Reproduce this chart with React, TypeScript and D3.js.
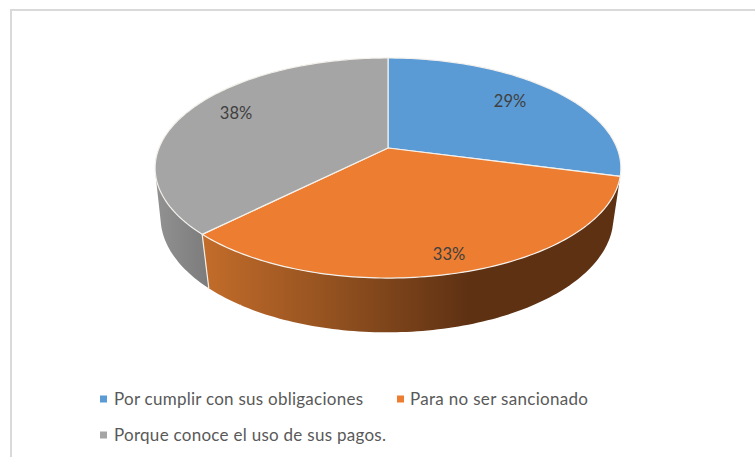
import React from "react";
import * as d3 from "d3";

const categories = ["Por cumplir con sus obligaciones", "Para no ser sancionado", "Porque conoce el uso de sus pagos."];
const seriesValues = [29.1, 33.4, 37.5];
const topColors = ["#5b9bd5", "#ed7d31", "#a5a5a5"];
const labelPositions = [[510, 101], [449, 254], [236, 113]];
const legendItems = [
  { x: 100, y: 399, tx: 114, w: 249 },
  { x: 397, y: 399, tx: 410, w: 178 },
  { x: 100, y: 435, tx: 114, w: 272 },
];

const topDisk = { cx: 388, cy: 148, a: 229, b: 106.4, k: 0.1818 };
const bottomDisk = { cx: 387, cy: 199, a: 223.5, b: 112, k: 0.16 };

type Disk = typeof topDisk;
function project(d: Disk, phi: number): [number, number] {
  const X = Math.sin(phi);
  const Y = -Math.cos(phi);
  const s = 1 / (1 - d.k * Y);
  return [d.cx + d.a * X * s, d.cy + d.b * Y * s];
}
function rim(d: Disk, a0: number, a1: number): [number, number][] {
  const n = Math.max(2, Math.ceil(Math.abs(a1 - a0) / 0.02));
  return d3.range(n + 1).map((i) => project(d, a0 + ((a1 - a0) * i) / n));
}

export default function App() {
  const arcs = d3.pie<number>().sort(null).value((v) => v)(seriesValues);
  const line = d3.line();
  const wallPath = (a0: number, a1: number) => {
    const top = rim(topDisk, a0, a1);
    const bot = rim(bottomDisk, a0, a1);
    return d3
      .range(top.length - 1)
      .map((i) => {
        const quad: [number, number][] = [top[i], top[i + 1], bot[i + 1], bot[i]];
        if (d3.polygonArea(quad) < 0) quad.reverse();
        return line(quad) + "Z";
      })
      .join("");
  };
  return (
    <svg width={755} height={457} style={{ position: "absolute", left: 0, top: 0, background: "#fff" }}>
      <defs>
        <linearGradient id="orangeWall" gradientUnits="userSpaceOnUse" x1={205} x2={470} y1={0} y2={0}>
          <stop offset="0" stopColor="#c26c2a" />
          <stop offset="0.5" stopColor="#91501f" />
          <stop offset="1" stopColor="#5e3113" />
        </linearGradient>
        <linearGradient id="greyWall" gradientUnits="userSpaceOnUse" x1={155} x2={207} y1={0} y2={0}>
          <stop offset="0" stopColor="#929292" />
          <stop offset="1" stopColor="#7c7c7c" />
        </linearGradient>
      </defs>
      <path d="M11 457V10H755" fill="none" stroke="#d9d9d9" strokeWidth={2} />
      {arcs.map((a, i) =>
        i === 0 ? null : (
          <path key={i} d={wallPath(a.startAngle, a.endAngle)} fill={i === 1 ? "url(#orangeWall)" : "url(#greyWall)"} />
        )
      )}
      <path d={line([project(topDisk, arcs[2].startAngle), project(bottomDisk, arcs[2].startAngle)]) || ""} stroke="#f2efe9" strokeWidth={1.2} fill="none" />
      {arcs.map((a, i) => (
        <path
          key={i}
          d={line([[topDisk.cx, topDisk.cy], ...rim(topDisk, a.startAngle, a.endAngle)]) + "Z"}
          fill={topColors[i]}
          stroke="#f4f1ec"
          strokeWidth={1.2}
          strokeLinejoin="round"
        />
      ))}
      {arcs.map((a, i) => (
        <text key={i} x={labelPositions[i][0]} y={labelPositions[i][1] + 6} textAnchor="middle" fontFamily="Lato, 'Open Sans', sans-serif" fontSize={16.5} fill="#404040">
          {Math.round(a.value)}%
        </text>
      ))}
      {categories.map((c, i) => (
        <g key={c}>
          <rect x={legendItems[i].x} y={legendItems[i].y - 3.5} width={7} height={7} fill={topColors[i]} />
          <text x={legendItems[i].tx} y={legendItems[i].y + 6} fontFamily="Lato, 'Open Sans', sans-serif" fontSize={17} fill="#595959" textLength={legendItems[i].w} lengthAdjust="spacing">
            {c}
          </text>
        </g>
      ))}
    </svg>
  );
}
